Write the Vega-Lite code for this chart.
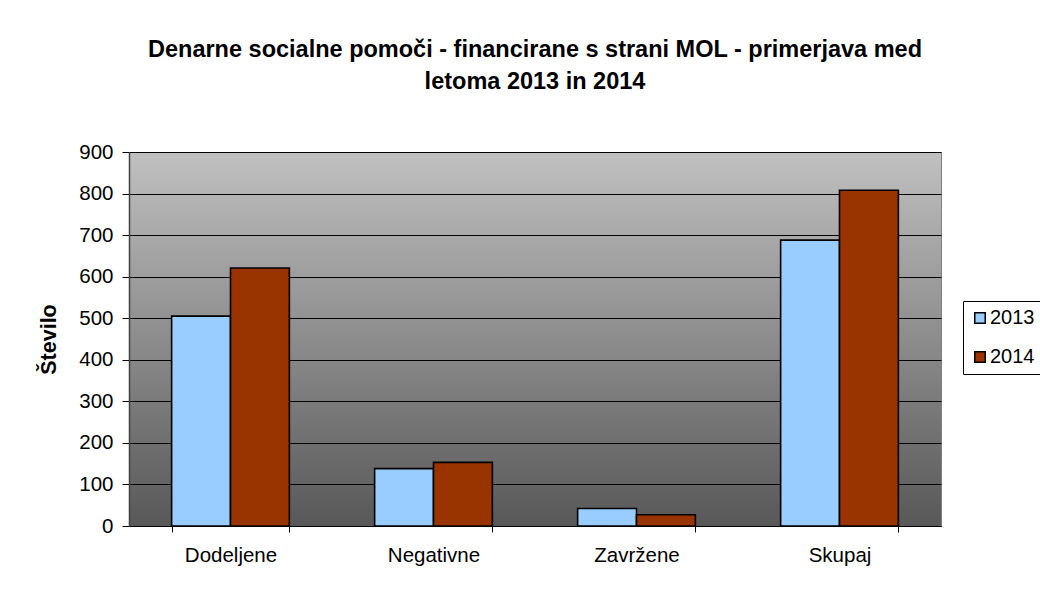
{
  "$schema": "https://vega.github.io/schema/vega-lite/v6.json",
  "width": 812,
  "height": 374,
  "autosize": {"type": "none"},
  "padding": {"left": 129, "top": 152, "right": 99, "bottom": 71},
  "background": "white",
  "title": {
    "text": ["Denarne socialne pomoči - financirane s strani MOL - primerjava med", "letoma 2013 in 2014"],
    "font": "Liberation Sans",
    "fontSize": 23.5,
    "fontWeight": "bold",
    "color": "black",
    "anchor": "middle",
    "lineHeight": 32,
    "offset": 49
  },
  "data": {
    "values": [
      {"kategorija": "Dodeljene", "leto": "2013", "stevilo": 505},
      {"kategorija": "Dodeljene", "leto": "2014", "stevilo": 621},
      {"kategorija": "Negativne", "leto": "2013", "stevilo": 138},
      {"kategorija": "Negativne", "leto": "2014", "stevilo": 153},
      {"kategorija": "Zavržene", "leto": "2013", "stevilo": 42},
      {"kategorija": "Zavržene", "leto": "2014", "stevilo": 27},
      {"kategorija": "Skupaj", "leto": "2013", "stevilo": 688},
      {"kategorija": "Skupaj", "leto": "2014", "stevilo": 808}
    ]
  },
  "mark": {"type": "bar", "stroke": "black", "strokeWidth": 1.6},
  "encoding": {
    "x": {
      "field": "kategorija",
      "type": "nominal",
      "sort": ["Dodeljene", "Negativne", "Zavržene", "Skupaj"],
      "scale": {"paddingInner": 0.42, "paddingOuter": 0.21},
      "axis": {
        "title": null,
        "labelAngle": 0,
        "labelFont": "Liberation Sans",
        "labelFontSize": 20.5,
        "labelColor": "black",
        "labelPadding": 13,
        "tickBand": "extent",
        "tickColor": "#000",
        "tickSize": 6,
        "domainColor": "#000",
        "grid": false
      }
    },
    "xOffset": {"field": "leto", "type": "nominal", "scale": {"paddingInner": 0, "paddingOuter": 0}},
    "y": {
      "field": "stevilo",
      "type": "quantitative",
      "scale": {"domain": [0, 900], "nice": false},
      "axis": {
        "title": "Število",
        "titleFont": "Liberation Sans",
        "titleFontSize": 21.5,
        "titleFontWeight": "bold",
        "titleColor": "black",
        "titlePadding": 18,
        "values": [0, 100, 200, 300, 400, 500, 600, 700, 800, 900],
        "labelFont": "Liberation Sans",
        "labelFontSize": 20.5,
        "labelColor": "black",
        "labelPadding": 9,
        "tickColor": "#000",
        "tickSize": 7,
        "domainColor": "#404040",
        "domainWidth": 1.5,
        "grid": true,
        "gridColor": "#000",
        "gridWidth": 1
      }
    },
    "color": {
      "field": "leto",
      "type": "nominal",
      "scale": {"domain": ["2013", "2014"], "range": ["#99CCFF", "#993300"]},
      "legend": {
        "title": null,
        "orient": "none",
        "legendX": 834,
        "legendY": 149,
        "strokeColor": "black",
        "fillColor": "white",
        "padding": 7,
        "symbolType": "square",
        "symbolSize": 110,
        "symbolStrokeColor": "black",
        "symbolStrokeWidth": 1.5,
        "labelFont": "Liberation Sans",
        "labelFontSize": 20,
        "labelColor": "black",
        "rowPadding": 19,
        "labelOffset": 0
      }
    }
  },
  "config": {
    "view": {
      "stroke": "#808080",
      "fill": {
        "gradient": "linear",
        "x1": 0, "y1": 0, "x2": 0, "y2": 1,
        "stops": [
          {"offset": 0, "color": "#c0c0c0"},
          {"offset": 1, "color": "#585858"}
        ]
      }
    }
  }
}
